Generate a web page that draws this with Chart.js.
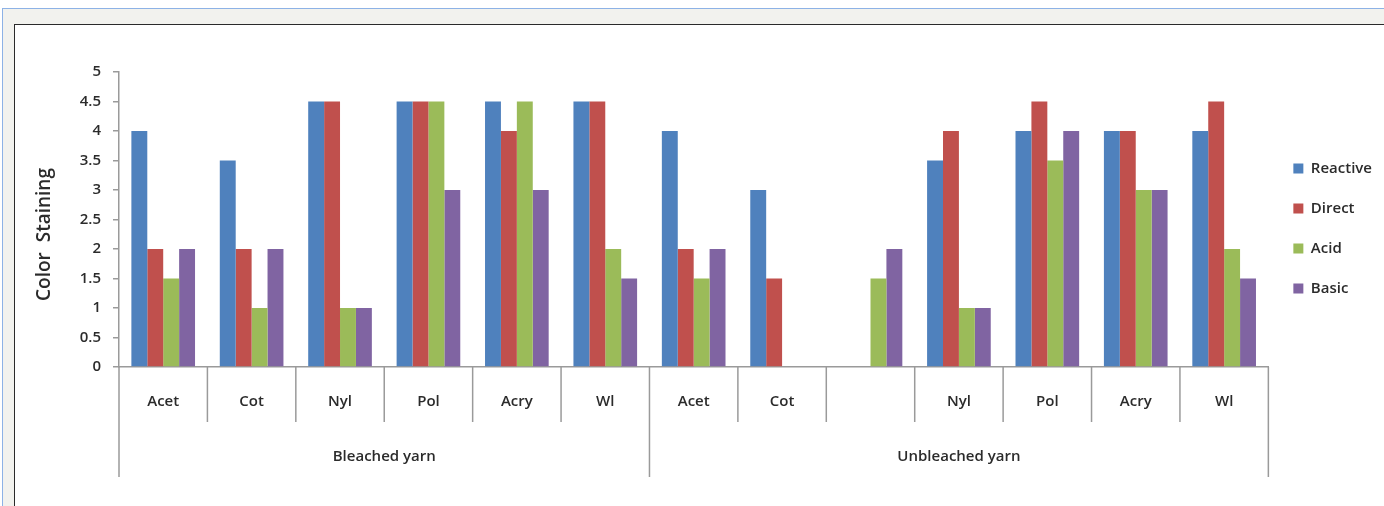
<!DOCTYPE html>
<html>
<head>
<meta charset="utf-8">
<script src="https://cdn.jsdelivr.net/npm/chart.js@4"></script>
<style>
  html, body { margin: 0; padding: 0; background: #fff; }
  body { width: 1384px; height: 506px; overflow: hidden; position: relative; }
  .frame {
    position: absolute; left: 2px; top: 8px; width: 1400px; height: 520px;
    border-left: 1px solid #8db2e6; border-top: 1px solid #8db2e6;
    background: #f2f2ee;
  }
  .sheet {
    position: absolute; left: 14px; top: 24px; width: 1400px; height: 520px;
    border-left: 1px solid #2a2a2a; border-top: 1px solid #2a2a2a;
    background: #fff;
  }
  .chart-box { position: absolute; left: 0; top: 0; width: 1369px; height: 481px; }
</style>
</head>
<body>
<div class="frame"></div>
<div class="sheet">
  <div class="chart-box"><canvas id="stainChart"></canvas></div>
</div>
<script>
const categories = ['Acet', 'Cot', 'Nyl', 'Pol', 'Acry', 'Wl', 'Acet', 'Cot', '', 'Nyl', 'Pol', 'Acry', 'Wl'];
const groupNames = ['Bleached yarn', 'Unbleached yarn'];
const groupSizes = [6, 7];
const yTitle = 'Color  Staining';

const reactive = [4, 3.5, 4.5, 4.5, 4.5, 4.5, 4, 3, null, 3.5, 4, 4, 4];
const direct = [2, 2, 4.5, 4.5, 4, 4.5, 2, 1.5, null, 4, 4.5, 4, 4.5];
const acid = [1.5, 1, 1, 4.5, 4.5, 2, 1.5, null, 1.5, 1, 3.5, 3, 2];
const basic = [2, 2, 1, 3, 3, 1.5, 2, null, 2, 1, 4, 3, 1.5];

const FONT = 'Open Sans';
const WEIGHT = 600;
const AXIS_GREY = '#9a9a9a';
const TEXT = '#2b2b2b';

// divider lines under the category axis, group names, and the value-axis title
const groupAxis = {
  id: 'groupAxis',
  afterDraw(chart) {
    const x = chart.scales.x;
    const y = chart.scales.y;
    const ctx = chart.ctx;
    const step = x.getPixelForValue(1) - x.getPixelForValue(0);
    const top = x.top;
    const shortEnd = top + 55;
    const longEnd = top + 110;

    const groupEdges = [0];
    groupSizes.forEach((n) => groupEdges.push(groupEdges[groupEdges.length - 1] + n));

    ctx.save();
    ctx.strokeStyle = AXIS_GREY;
    ctx.lineWidth = 1.5;
    for (let i = 0; i <= categories.length; i++) {
      const px = x.getPixelForValue(i) - step / 2;
      const end = groupEdges.includes(i) ? longEnd : shortEnd;
      ctx.beginPath();
      ctx.moveTo(px, top);
      ctx.lineTo(px, end);
      ctx.stroke();
    }

    ctx.fillStyle = TEXT;
    ctx.font = `${WEIGHT} 15px "${FONT}"`;
    ctx.textAlign = 'center';
    ctx.textBaseline = 'middle';
    groupNames.forEach((name, g) => {
      const a = x.getPixelForValue(groupEdges[g]) - step / 2;
      const b = x.getPixelForValue(groupEdges[g + 1] - 1) + step / 2;
      ctx.fillText(name, (a + b) / 2, top + 90);
    });

    // rotated title sits a little below the middle of the value axis
    ctx.font = `${WEIGHT} 19px "${FONT}"`;
    ctx.translate(30, (y.top + y.bottom) / 2 + 15);
    ctx.rotate(-Math.PI / 2);
    ctx.fillText(yTitle, 0, 0);
    ctx.restore();
  }
};

const ctx = document.getElementById('stainChart').getContext('2d');
new Chart(ctx, {
  type: 'bar',
  data: {
    labels: categories,
    datasets: [
      { label: 'Reactive', data: reactive, backgroundColor: '#4f81bd' },
      { label: 'Direct', data: direct, backgroundColor: '#c0504d' },
      { label: 'Acid', data: acid, backgroundColor: '#9bbb59' },
      { label: 'Basic', data: basic, backgroundColor: '#8064a2' },
    ]
  },
  options: {
    responsive: true,
    maintainAspectRatio: false,
    animation: false,
    datasets: {
      bar: { categoryPercentage: 0.72, barPercentage: 1, borderWidth: 0 }
    },
    layout: { padding: { left: 16, top: 47, right: 2, bottom: 0 } },
    plugins: {
      tooltip: { enabled: false },
      title: { display: false },
      legend: {
        position: 'right',
        fullSize: false,
        align: 'center',
        title: { display: true, text: '', padding: 0, font: { size: 15, lineHeight: 1.2 } },
        labels: {
          boxWidth: 10,
          boxHeight: 10,
          padding: 25,
          color: TEXT,
          font: { family: FONT, size: 15, weight: WEIGHT }
        }
      }
    },
    scales: {
      x: {
        offset: true,
        grid: { display: true, drawOnChartArea: false, drawTicks: false },
        border: { display: true, color: AXIS_GREY, width: 1.5 },
        ticks: {
          autoSkip: false,
          maxRotation: 0,
          padding: 26,
          color: TEXT,
          font: { family: FONT, size: 15, weight: WEIGHT }
        },
        afterFit: (scale) => { scale.height = 139; }
      },
      y: {
        min: 0,
        max: 5,
        grid: { drawOnChartArea: false, drawTicks: true, tickLength: 6, color: AXIS_GREY, lineWidth: 1.5 },
        border: { display: true, color: AXIS_GREY, width: 1.5 },
        ticks: {
          stepSize: 0.5,
          padding: 12,
          color: TEXT,
          font: { family: FONT, size: 15, weight: WEIGHT },
          callback: (v) => String(Math.round(v * 10) / 10)
        },
        title: { display: false },
        afterFit: (scale) => { scale.width = 88; }
      }
    }
  },
  plugins: [groupAxis]
});
</script>
</body>
</html>
